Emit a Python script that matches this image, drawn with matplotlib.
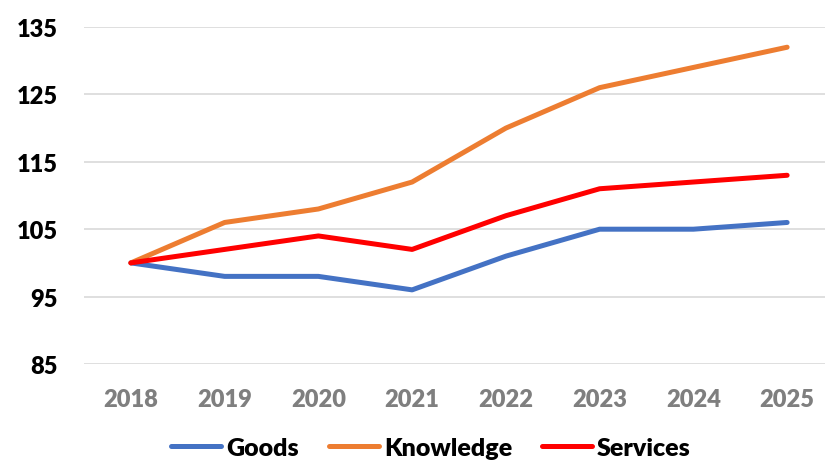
import matplotlib.pyplot as plt

years = ['2018', '2019', '2020', '2021', '2022', '2023', '2024', '2025']
goods = [100, 98, 98, 96, 101, 105, 105, 106]
knowledge = [100, 106, 108, 112, 120, 126, 129, 132]
services = [100, 102, 104, 102, 107, 111, 112, 113]
yticks = [85, 95, 105, 115, 125, 135]

plt.rcParams['font.family'] = ['Lato', 'DejaVu Sans']
plt.rcParams['font.weight'] = 'heavy'

fig = plt.figure(figsize=(8.25, 4.64), dpi=100)
W, H = 825, 464
ax = fig.add_axes([84 / W, 1 - 365 / H, (834 - 84) / W, (365 - 28) / H])

x = range(len(years))
ax.plot(x, goods, color='#4472C4', lw=3.6, solid_capstyle='round', label='Goods', zorder=3)
ax.plot(x, knowledge, color='#ED7D31', lw=3.6, solid_capstyle='round', label='Knowledge', zorder=3)
ax.plot(x, services, color='#FF0000', lw=3.6, solid_capstyle='round', label='Services', zorder=4)

ax.set_xlim(-0.5, len(years) - 0.5)
ax.set_ylim(85, 135)
ax.set_yticks(yticks)
ax.set_xticks(list(x))
ax.set_xticklabels(years)
ax.grid(axis='y', color='#D9D9D9', lw=1.2)
ax.set_axisbelow(True)
for s in ax.spines.values():
    s.set_visible(False)
ax.tick_params(length=0)
ax.tick_params(axis='y', labelsize=17, labelcolor='black', pad=19)
ax.tick_params(axis='x', labelsize=17, labelcolor='#7F7F7F', pad=17)

# legend sits at the very bottom edge, as in the original
fig.legend(loc='center', bbox_to_anchor=(431 / W, 1 - 449 / H), ncol=3, frameon=False,
           fontsize=18, handlelength=2.0, handletextpad=0.2, columnspacing=1.2)

fig.savefig('out.png', dpi=100)
